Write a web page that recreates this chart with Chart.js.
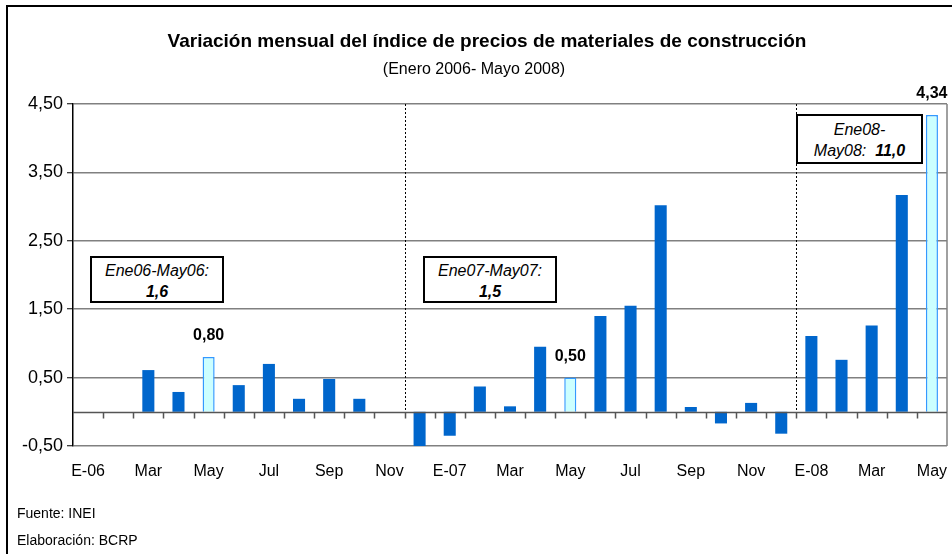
<!DOCTYPE html>
<html>
<head>
<meta charset="utf-8">
<script src="https://cdn.jsdelivr.net/npm/chart.js"></script>
<style>
  body { margin: 0; background: #fff; font-family: "Liberation Sans", Arial, sans-serif; }
  #wrap { position: relative; width: 952px; height: 554px; overflow: hidden; }
  #frame { position: absolute; left: 6px; top: 5px; width: 1000px; height: 600px;
           border-left: 2px solid #000; border-top: 2px solid #000; }
  canvas { position: absolute; left: 0; top: 0; }
  .box { position: absolute; border: 2px solid #000; background: #fff; box-sizing: border-box;
         font-style: italic; font-size: 16px; text-align: center; line-height: 21px; color: #000; }
  .foot { position: absolute; left: 17px; font-size: 14px; color: #000; }
</style>
</head>
<body>
<div id="wrap">
  <div id="frame"></div>
  <canvas id="chart" width="952" height="554"></canvas>
  <div class="box" style="left:90px; top:256px; width:134px; height:47px; padding-top:2px;">Ene06-May06:<br><b>1,6</b></div>
  <div class="box" style="left:423px; top:256px; width:134px; height:47px; padding-top:2px;">Ene07-May07:<br><b>1,5</b></div>
  <div class="box" style="left:796px; top:114px; width:127px; height:50px; padding-top:3px;">Ene08-<br>May08:&nbsp; <b>11,0</b></div>
  <div class="foot" style="top:505px;">Fuente: INEI</div>
  <div class="foot" style="top:532px;">Elaboración: BCRP</div>
</div>
<script>
// ======================= DATA ==========================
const months = [
  "Ene06","Feb06","Mar06","Abr06","May06","Jun06","Jul06","Ago06","Sep06","Oct06","Nov06","Dic06",
  "Ene07","Feb07","Mar07","Abr07","May07","Jun07","Jul07","Ago07","Sep07","Oct07","Nov07","Dic07",
  "Ene08","Feb08","Mar08","Abr08","May08"
];
const tickLabels = [
  "E-06","","Mar","","May","","Jul","","Sep","","Nov","",
  "E-07","","Mar","","May","","Jul","","Sep","","Nov","",
  "E-08","","Mar","","May"
];
const variacion = [
  0.00, 0.00, 0.61, 0.29, 0.80, 0.39, 0.70, 0.19, 0.48, 0.19, 0.00, -0.50,
  -0.35, 0.37, 0.08, 0.95, 0.50, 1.40, 1.55, 3.02, 0.07, -0.17, 0.13, -0.32,
  1.11, 0.76, 1.26, 3.17, 4.34
];
const highlight = [4, 16, 28];   // meses resaltados (mayo)
const separators = [11, 24];     // lineas punteadas (limite entre categorias)

const fmt = v => v.toFixed(2).replace(".", ",");

// ======================= PLUGINS ========================
const extras = {
  id: "extras",
  beforeDatasetsDraw(chart) {
    const {ctx, chartArea: a, scales: {x, y}} = chart;
    const y0 = y.getPixelForValue(0);
    const bound = i => (x.getPixelForValue(i - 1) + x.getPixelForValue(i)) / 2;
    ctx.save();
    // borde derecho
    ctx.strokeStyle = "#808080";
    ctx.lineWidth = 1.5;
    ctx.beginPath();
    ctx.moveTo(a.right, a.top);
    ctx.lineTo(a.right, a.bottom);
    ctx.stroke();
    // lineas punteadas
    ctx.strokeStyle = "#000";
    ctx.lineWidth = 1;
    ctx.setLineDash([2, 2]);
    separators.forEach(i => {
      const px = Math.round(bound(i)) + 0.5;
      ctx.beginPath();
      ctx.moveTo(px, a.top);
      ctx.lineTo(px, y0);
      ctx.stroke();
    });
    ctx.restore();
  },
  afterDatasetsDraw(chart) {
    const {ctx, chartArea: a, scales: {x, y}} = chart;
    const y0 = Math.round(y.getPixelForValue(0)) + 0.5;
    const bound = i => (x.getPixelForValue(i - 1) + x.getPixelForValue(i)) / 2;
    ctx.save();
    // eje en cero con marcas
    ctx.strokeStyle = "#555";
    ctx.lineWidth = 1.5;
    ctx.beginPath();
    ctx.moveTo(a.left, y0);
    ctx.lineTo(a.right, y0);
    for (let i = 1; i < months.length; i++) {
      const px = Math.round(bound(i)) + 0.5;
      ctx.moveTo(px, y0);
      ctx.lineTo(px, y0 + 6);
    }
    ctx.stroke();
    // etiquetas de barras resaltadas
    const meta = chart.getDatasetMeta(0);
    ctx.fillStyle = "#000";
    ctx.font = "bold 16px 'Liberation Sans', Arial, sans-serif";
    ctx.textAlign = "center";
    ctx.textBaseline = "middle";
    highlight.forEach(i => {
      const bar = meta.data[i];
      ctx.fillText(fmt(variacion[i]), bar.x, bar.y - 21);
    });
    // titulo
    ctx.font = "bold 19px 'Liberation Sans', Arial, sans-serif";
    ctx.fillText("Variación mensual del índice de precios de materiales de construcción", 487, 42);
    ctx.font = "16px 'Liberation Sans', Arial, sans-serif";
    ctx.fillText("(Enero 2006- Mayo 2008)", 474, 70);
    ctx.restore();
  }
};

// ======================= CHART =============================
const chart = new Chart(document.getElementById("chart"), {
  type: "bar",
  data: {
    labels: months,
    datasets: [{
      data: variacion,
      backgroundColor: variacion.map((v, i) => highlight.includes(i) ? "#CCFFFF" : "#0066CC"),
      borderColor: variacion.map((v, i) => highlight.includes(i) ? "#3399FF" : "#0066CC"),
      borderWidth: variacion.map((v, i) => highlight.includes(i) ? 1.5 : 0),
      categoryPercentage: 1,
      barPercentage: 0.4
    }]
  },
  options: {
    responsive: false,
    animation: false,
    layout: { padding: { left: 0, right: 5, top: 104, bottom: 0 } },
    plugins: { legend: { display: false }, tooltip: { enabled: false } },
    scales: {
      x: {
        grid: { display: false, drawTicks: false },
        border: { display: false },
        afterFit: s => { s.height = 108; s.paddingLeft = 0; s.paddingRight = 0; },
        ticks: {
          autoSkip: false, maxRotation: 0, padding: 16,
          color: "#000",
          font: { family: "'Liberation Sans', Arial, sans-serif", size: 16 },
          callback: (v, i) => tickLabels[i]
        }
      },
      y: {
        min: -0.5, max: 4.5,
        afterFit: s => { s.width = 73; },
        grid: { color: "#808080", lineWidth: 1.5, drawTicks: true, tickLength: 6, tickColor: "#000", tickWidth: 1 },
        border: { display: true, color: "#000", width: 1.5 },
        ticks: {
          stepSize: 1, padding: 4, color: "#000",
          font: { family: "'Liberation Sans', Arial, sans-serif", size: 18 },
          callback: v => fmt(v)
        }
      }
    }
  },
  plugins: [extras]
});
</script>
</body>
</html>
